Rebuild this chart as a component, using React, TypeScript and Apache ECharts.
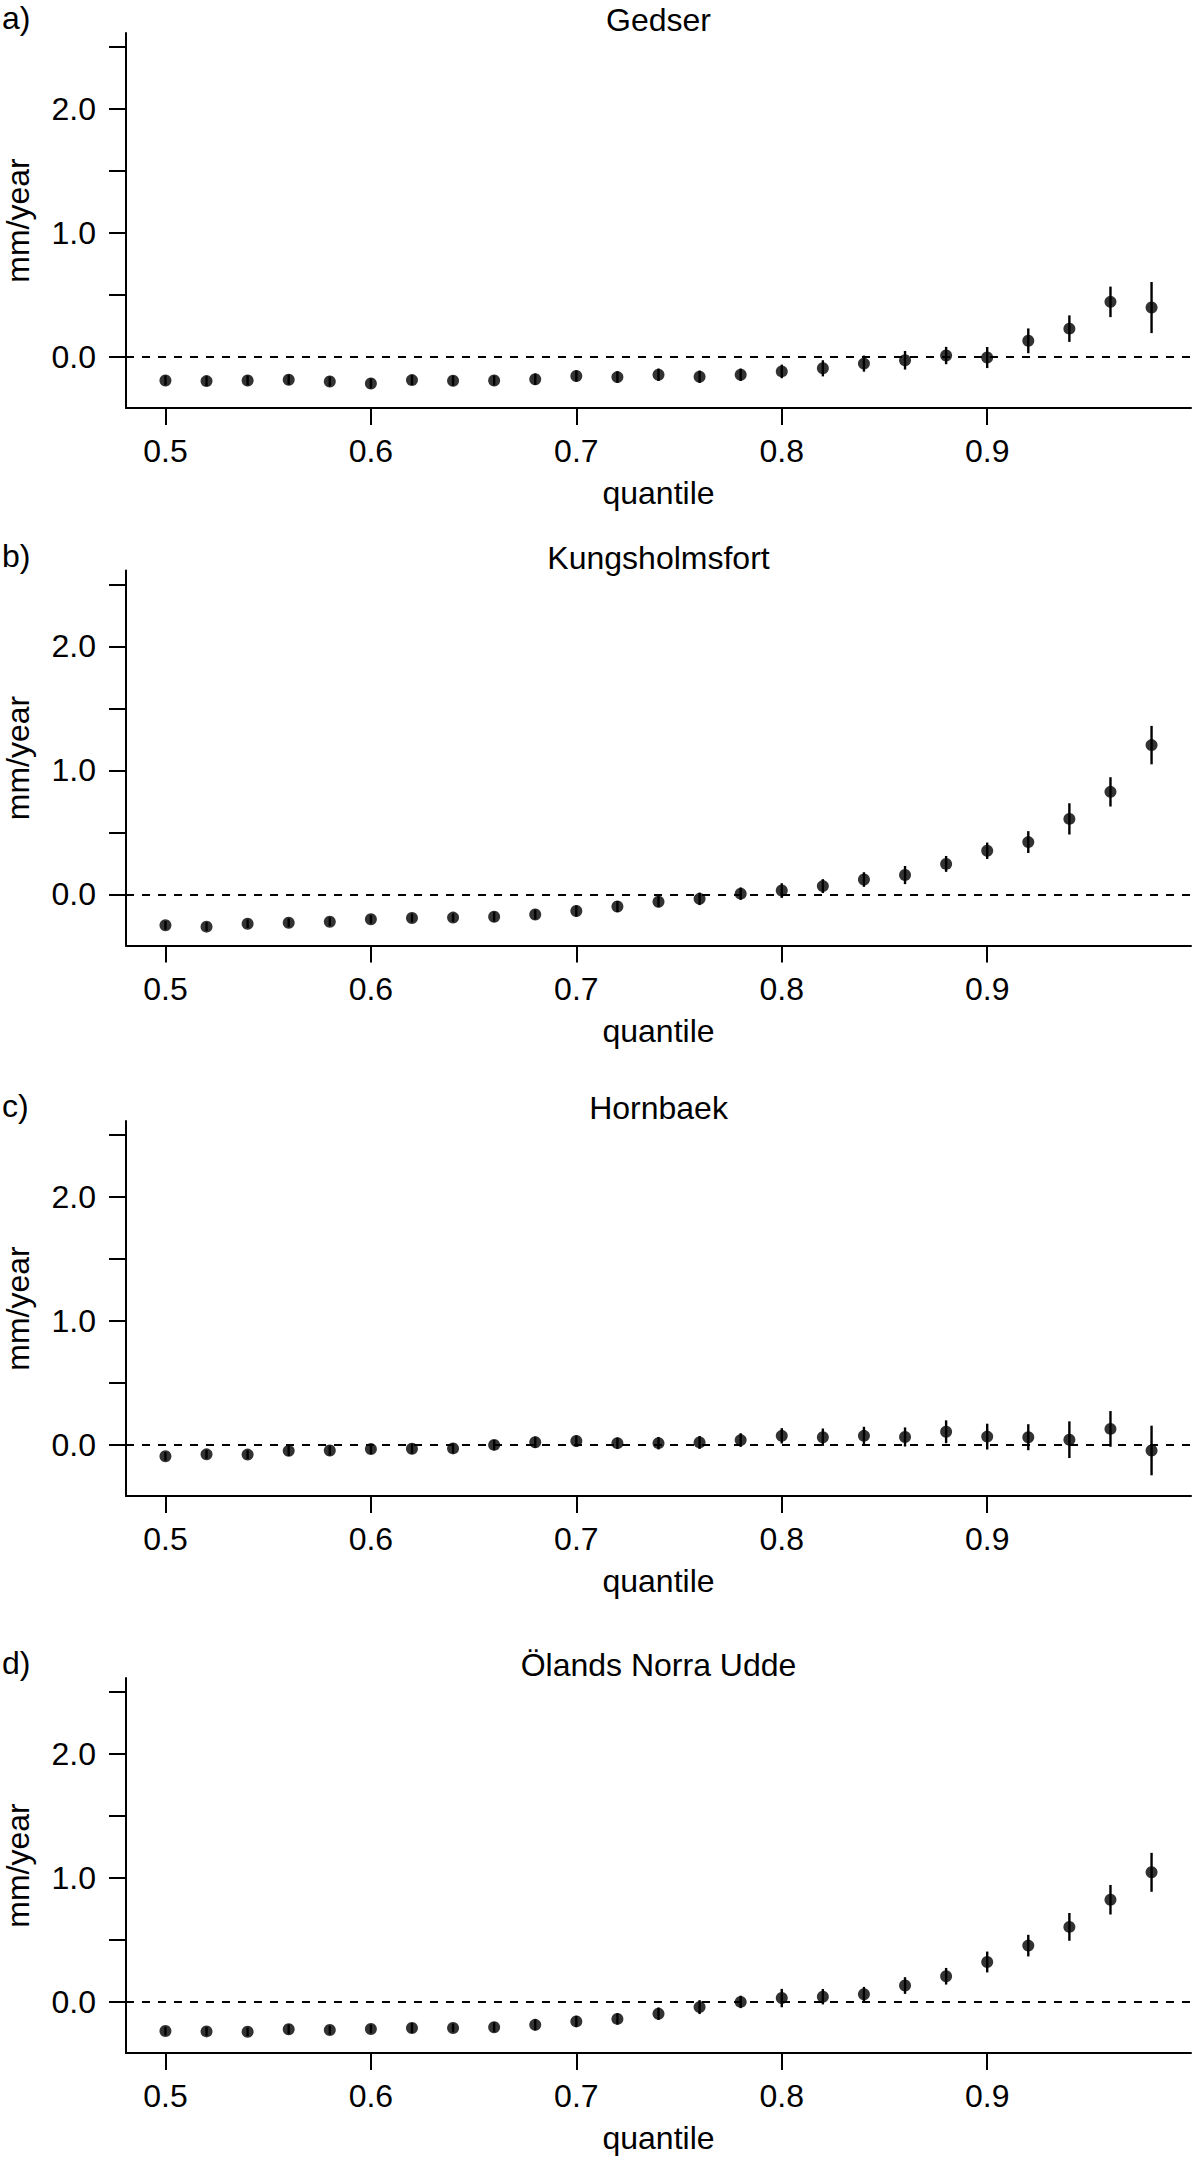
import React, { useEffect, useRef } from "react";
import * as echarts from "echarts";

// quantile levels on the x axis
const QUANTILES = [
  0.5, 0.52, 0.54, 0.56, 0.58, 0.6, 0.62, 0.64, 0.66, 0.68, 0.7, 0.72, 0.74,
  0.76, 0.78, 0.8, 0.82, 0.84, 0.86, 0.88, 0.9, 0.92, 0.94, 0.96, 0.98,
];

// trend estimates (mm/year) and half-width of the error bars
const GEDSER = [
  -0.19, -0.195, -0.19, -0.184, -0.198, -0.214, -0.187, -0.192, -0.19, -0.18,
  -0.154, -0.163, -0.144, -0.16, -0.144, -0.117, -0.092, -0.054, -0.027, 0.011,
  -0.005, 0.13, 0.228, 0.444, 0.398,
];
const GEDSER_ERR = [
  0.04, 0.04, 0.04, 0.04, 0.04, 0.04, 0.04, 0.04, 0.04, 0.045, 0.045, 0.046,
  0.05, 0.05, 0.05, 0.055, 0.065, 0.065, 0.075, 0.07, 0.085, 0.1, 0.107, 0.123,
  0.206,
];

const KUNGSHOLMSFORT = [
  -0.249, -0.26, -0.237, -0.229, -0.22, -0.2, -0.19, -0.187, -0.18, -0.162,
  -0.134, -0.098, -0.059, -0.036, 0.006, 0.031, 0.067, 0.12, 0.156, 0.246,
  0.352, 0.422, 0.609, 0.827, 1.204,
];
const KUNGSHOLMSFORT_ERR = [
  0.035, 0.035, 0.035, 0.035, 0.035, 0.035, 0.035, 0.035, 0.04, 0.04, 0.045,
  0.045, 0.045, 0.05, 0.05, 0.059, 0.056, 0.059, 0.073, 0.064, 0.066, 0.088,
  0.126, 0.118, 0.155,
];

const HORNBAEK = [
  -0.092, -0.076, -0.078, -0.048, -0.045, -0.034, -0.031, -0.028, 0.0, 0.022,
  0.031, 0.014, 0.014, 0.02, 0.039, 0.073, 0.062, 0.073, 0.064, 0.106, 0.067,
  0.062, 0.042, 0.129, -0.045,
];
const HORNBAEK_ERR = [
  0.035, 0.035, 0.035, 0.04, 0.04, 0.04, 0.04, 0.04, 0.04, 0.045, 0.045, 0.045,
  0.05, 0.052, 0.055, 0.062, 0.07, 0.073, 0.077, 0.092, 0.104, 0.105, 0.148,
  0.144, 0.2,
];

const OLAND = [
  -0.235, -0.238, -0.241, -0.221, -0.227, -0.218, -0.21, -0.21, -0.204, -0.185,
  -0.157, -0.137, -0.095, -0.042, 0.0, 0.031, 0.042, 0.062, 0.132, 0.207,
  0.322, 0.454, 0.605, 0.824, 1.045,
];
const OLAND_ERR = [
  0.035, 0.035, 0.035, 0.04, 0.035, 0.035, 0.04, 0.035, 0.04, 0.045, 0.045,
  0.045, 0.05, 0.056, 0.05, 0.074, 0.062, 0.059, 0.067, 0.067, 0.084, 0.087,
  0.112, 0.119, 0.157,
];

const PANEL_LABELS = ["a)", "b)", "c)", "d)"];
const STATIONS = ["Gedser", "Kungsholmsfort", "Hornbaek", "Ölands Norra Udde"];
const VALUES = [GEDSER, KUNGSHOLMSFORT, HORNBAEK, OLAND];
const ERRORS = [GEDSER_ERR, KUNGSHOLMSFORT_ERR, HORNBAEK_ERR, OLAND_ERR];

const X_TICKS = [0.5, 0.6, 0.7, 0.8, 0.9];
const Y_TICKS = [0, 0.5, 1, 1.5, 2, 2.5];
const Y_LABELS = [0, 1, 2];

// layout (px)
const W = 1194;
const H = 2157;
const PANEL_TOP = [0, 537.5, 1088, 1645];
const PLOT_LEFT = 126;
const PLOT_RIGHT = 1191;
const PLOT_TOP = 33;
const PLOT_BOTTOM = 408;
const FONT = "'Liberation Sans', Arial, Helvetica, sans-serif";
const FS = 32;

// axis ranges (data range padded by 4%, like R)
const X_MIN = 0.4808;
const X_MAX = 0.9992;
const Y_MIN = -0.412;
const Y_MAX = 2.612;

export default function App() {
  const chartRef = useRef<HTMLDivElement>(null);

  useEffect(() => {
    document.body.style.margin = "0";
    if (!chartRef.current) return;
    const chart = echarts.init(chartRef.current, undefined, { renderer: "svg" });

    const black = "#000";
    const grids: any[] = [];
    const xAxes: any[] = [];
    const yAxes: any[] = [];
    const series: any[] = [];
    const graphics: any[] = [];

    PANEL_TOP.forEach((top, i) => {
      const vals = VALUES[i];
      const errs = ERRORS[i];
      const cx = (PLOT_LEFT + PLOT_RIGHT) / 2;

      grids.push({
        left: PLOT_LEFT,
        top: top + PLOT_TOP,
        width: PLOT_RIGHT - PLOT_LEFT,
        height: PLOT_BOTTOM - PLOT_TOP,
      });

      xAxes.push({
        type: "value",
        gridIndex: i,
        min: X_MIN,
        max: X_MAX,
        splitLine: { show: false },
        axisLine: { show: true, onZero: false, lineStyle: { color: black, width: 2 } },
        axisTick: { show: true, customValues: X_TICKS, length: 17, lineStyle: { color: black, width: 2 } },
        axisLabel: {
          customValues: X_TICKS,
          formatter: (v: number) => v.toFixed(1),
          margin: 27,
          color: black,
          fontSize: FS,
          fontFamily: FONT,
        },
      });

      yAxes.push({
        type: "value",
        gridIndex: i,
        min: Y_MIN,
        max: Y_MAX,
        splitLine: { show: false },
        axisLine: { show: true, onZero: false, lineStyle: { color: black, width: 2 } },
        axisTick: { show: true, customValues: Y_TICKS, length: 17, lineStyle: { color: black, width: 2 } },
        axisLabel: {
          customValues: Y_LABELS,
          formatter: (v: number) => v.toFixed(1),
          margin: 30,
          color: black,
          fontSize: FS,
          fontFamily: FONT,
        },
      });

      // error bars
      series.push({
        type: "custom",
        xAxisIndex: i,
        yAxisIndex: i,
        silent: true,
        z: 3,
        encode: { x: 0, y: [1, 2] },
        data: QUANTILES.map((q, k) => [q, vals[k] - errs[k], vals[k] + errs[k]]),
        renderItem: (_params: any, api: any) => {
          const lo = api.coord([api.value(0), api.value(1)]);
          const hi = api.coord([api.value(0), api.value(2)]);
          return {
            type: "line",
            shape: { x1: lo[0], y1: lo[1], x2: hi[0], y2: hi[1] },
            style: { stroke: black, lineWidth: 2.4 },
          };
        },
      });

      // point estimates + zero reference
      series.push({
        type: "scatter",
        xAxisIndex: i,
        yAxisIndex: i,
        silent: true,
        z: 4,
        symbol: "circle",
        symbolSize: 12,
        itemStyle: { color: black },
        data: QUANTILES.map((q, k) => [q, vals[k]]),
        markLine: {
          silent: true,
          symbol: "none",
          label: { show: false },
          lineStyle: { color: black, type: [8, 8], width: 2 },
          data: [{ yAxis: 0 }],
        },
      });

      const txt = { fill: black, fontSize: FS, fontFamily: FONT };
      graphics.push(
        {
          type: "text",
          x: 2,
          y: top + 18,
          style: { ...txt, text: PANEL_LABELS[i], align: "left", verticalAlign: "middle" },
        },
        {
          type: "text",
          x: cx,
          y: top + 20,
          style: { ...txt, text: STATIONS[i], align: "center", verticalAlign: "middle" },
        },
        {
          type: "text",
          x: 18,
          y: top + (PLOT_TOP + PLOT_BOTTOM) / 2,
          rotation: Math.PI / 2,
          style: { ...txt, text: "mm/year", align: "center", verticalAlign: "middle" },
        },
        {
          type: "text",
          x: cx,
          y: top + 493,
          style: { ...txt, text: "quantile", align: "center", verticalAlign: "middle" },
        }
      );
    });

    chart.setOption({
      animation: false,
      backgroundColor: "#fff",
      grid: grids,
      xAxis: xAxes,
      yAxis: yAxes,
      series,
      graphic: graphics,
    });

    return () => chart.dispose();
  }, []);

  return <div ref={chartRef} style={{ width: W, height: H }} />;
}
